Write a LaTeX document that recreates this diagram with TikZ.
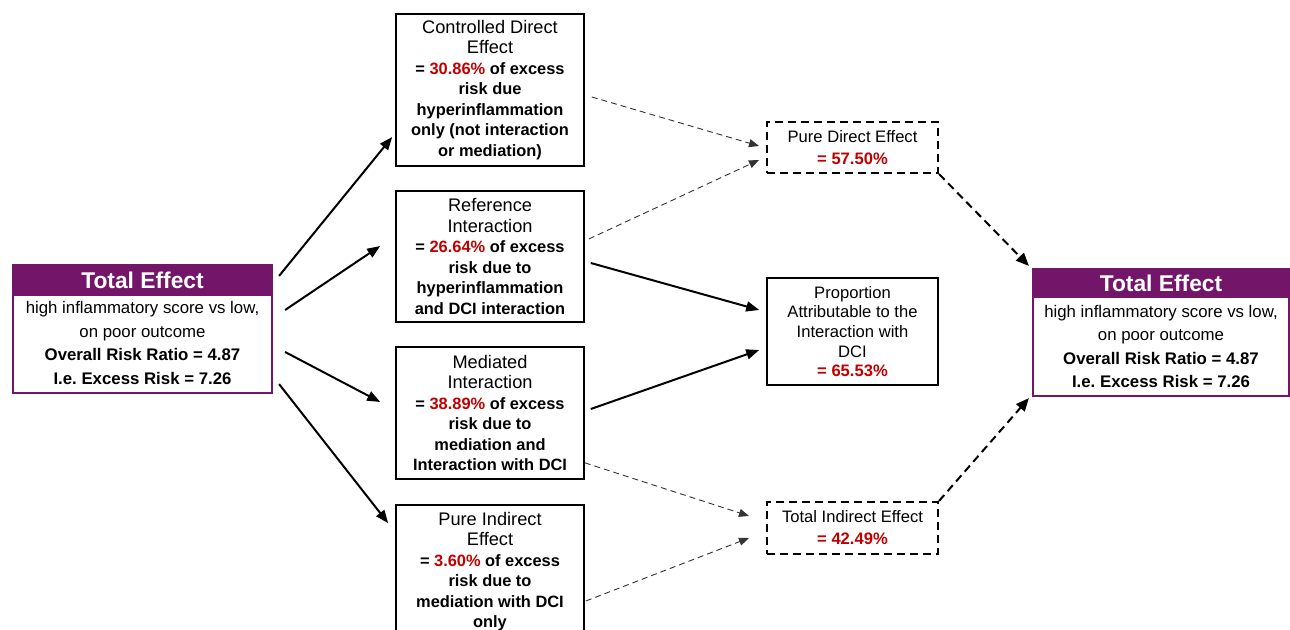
\documentclass[tikz,border=0pt]{standalone}
\usepackage{fontspec}
\setmainfont{Liberation Sans}
\usetikzlibrary{arrows.meta,calc}
\definecolor{tepurple}{RGB}{115,22,105}
\definecolor{pctred}{RGB}{192,0,0}
\newcommand{\ttl}[1]{{\fontsize{9.1}{10.25}\selectfont\mdseries #1}}
\newcommand{\pc}[1]{\textcolor{pctred}{#1}}
\begin{document}
\begin{tikzpicture}[x=0.5pt,y=-0.5pt,
  midbox/.style={draw=black, line width=0.8pt, minimum width=94pt, inner sep=0pt, align=center,
    font=\fontsize{8.2}{10.25}\selectfont\bfseries},
  rbox/.style={draw=black, line width=0.8pt, minimum width=85.5pt, inner sep=0pt, align=center,
    font=\fontsize{8.3}{11}\selectfont},
  dbox/.style={rbox, line width=1pt, dash pattern=on 4pt off 2.5pt},
  tebox/.style={draw=tepurple, line width=1.1pt, inner sep=0pt},
  tehead/.style={fill=tepurple, inner sep=0pt, text=white, font=\fontsize{11.4}{13}\selectfont\bfseries},
  tebody/.style={inner sep=0pt, align=center, font=\fontsize{8.4}{11.7}\selectfont},
  solidarrow/.style={draw=black, line width=1pt, -{Triangle[length=6.5pt,width=5pt]}},
  thinarrow/.style={draw=black!80, line width=0.45pt, dash pattern=on 3pt off 2pt, -{Triangle[length=5pt,width=4pt]}},
  thickarrow/.style={draw=black, line width=1pt, dash pattern=on 4pt off 2.5pt, -{Triangle[length=6.5pt,width=5.5pt]}}
]
\useasboundingbox (0,0) rectangle (1290,630);
\fill[white] (0,0) rectangle (1290,630);

% Left total effect
\node[tehead, minimum width=129.5pt, minimum height=15.5pt] (tlh) at (142.5,280.5) {Total Effect};
\node[tebox, minimum width=129.5pt, minimum height=64pt] (tl) at (142.5,329) {};
\node[tebody] (tlb) at (142.5,343) {high inflammatory score vs low,\\on poor outcome\\\textbf{Overall Risk Ratio = 4.87}\\\textbf{I.e.\ Excess Risk = 7.26}};

% Right total effect
\node[tehead, minimum width=128pt, minimum height=14.5pt] (trh) at (1161,283.5) {Total Effect};
\node[tebox, minimum width=128pt, minimum height=63.5pt] (tr) at (1161,332.5) {};
\node[tebody] (trb) at (1161,346.5) {high inflammatory score vs low,\\on poor outcome\\\textbf{Overall Risk Ratio = 4.87}\\\textbf{I.e.\ Excess Risk = 7.26}};

% Middle column
\node[midbox, minimum height=76pt] (cde) at (490,90) {\ttl{Controlled Direct}\\\ttl{Effect}\\= \pc{30.86\%} of excess\\risk due\\hyperinflammation\\only (not interaction\\or mediation)};
\node[midbox, minimum height=65.5pt] (ri) at (490,256.5) {\ttl{Reference}\\\ttl{Interaction}\\= \pc{26.64\%} of excess\\risk due to\\hyperinflammation\\and DCI interaction};
\node[midbox, minimum height=66pt] (mi) at (490,413) {\ttl{Mediated}\\\ttl{Interaction}\\= \pc{38.89\%} of excess\\risk due to\\mediation and\\Interaction with DCI};
\node[midbox, minimum height=66.5pt] (pie) at (490,571.5) {\ttl{Pure Indirect}\\\ttl{Effect}\\= \pc{3.60\%} of excess\\risk due to\\mediation with DCI\\only};

% Right column
\node[dbox, minimum height=25.5pt] (pde) at (852.5,147.5) {Pure Direct Effect\\\textbf{\pc{= 57.50\%}}};
\node[rbox, minimum height=53.5pt, font=\fontsize{8.3}{9.85}\selectfont] (pa) at (852.5,331.5) {Proportion\\Attributable to the\\Interaction with\\DCI\\\textbf{\pc{= 65.53\%}}};
\node[dbox, minimum height=26pt] (tie) at (852.5,528) {Total Indirect Effect\\\textbf{\pc{= 42.49\%}}};

% Arrows from left total effect
\draw[solidarrow] ($(tl.north east)+(6,12)$) -- ($(cde.west)+(-3,47)$);
\draw[solidarrow] ($(tl.east)+(12,-19)$) -- ($(ri.west)+(-15,-10.5)$);
\draw[solidarrow] ($(tl.east)+(12,23)$) -- ($(mi.west)+(-15,-11)$);
\draw[solidarrow] ($(tl.south east)+(6,-10)$) -- ($(pie.north west)+(-7,19)$);

% Middle to right column
\draw[thinarrow] ($(cde.east)+(7,7)$) -- ($(pde.west)+(-7,-1.5)$);
\draw[thinarrow] ($(ri.east)+(4,-17.5)$) -- ($(pde.west)+(-7,12.5)$);
\draw[solidarrow] ($(ri.east)+(6,6.5)$) -- ($(pa.west)+(-7,-21.5)$);
\draw[solidarrow] ($(mi.east)+(6,-4)$) -- ($(pa.west)+(-7,18.5)$);
\draw[thinarrow] ($(mi.south east)+(0,-17)$) -- ($(tie.west)+(-17,-12)$);
\draw[thinarrow] ($(pie.east)+(1,29.5)$) -- ($(tie.west)+(-17,10)$);

% Right column to right total effect
\draw[thickarrow] (pde.south east) -- ($(tr.north west)+(-3,-2)$);
\draw[thickarrow] (tie.north east) -- ($(tr.south west)+(-3,1)$);
\end{tikzpicture}
\end{document}
